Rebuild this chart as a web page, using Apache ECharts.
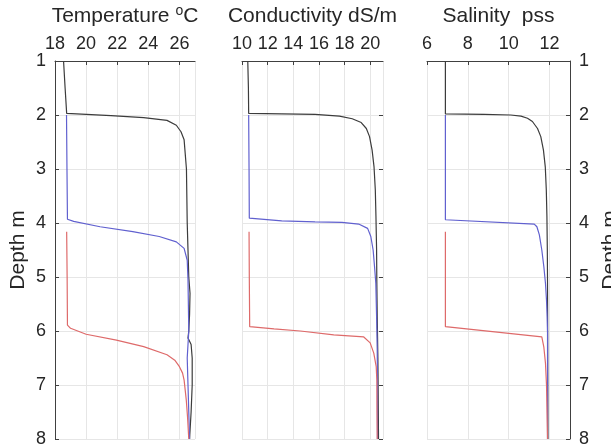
<!DOCTYPE html>
<html><head><meta charset="utf-8">
<script src="https://cdn.jsdelivr.net/npm/echarts@6/dist/echarts.min.js"></script>
<style>html,body{margin:0;padding:0;background:#fff}#c{width:611px;height:447px}</style>
</head><body><div id="c"></div>
<script>
// Depth axis
const depthRange = [1, 8];
// Panel x ranges
const tempRange = [18, 27];
const condRange = [10, 21];
const salRange = [6, 13];
// Titles
const titles = ['Temperature {sup|o}C', 'Conductivity dS/m', 'Salinity  pss'];

// Temperature profiles [value, depth]
const tempBlack = [[18.55,1.0],[18.65,1.5],[18.75,1.97],[21.6,2.01],[23.7,2.05],[25.2,2.10],[25.8,2.19],[26.1,2.31],[26.3,2.46],[26.45,3.0],[26.5,4.0],[26.55,4.5],[26.6,5.0],[26.68,5.3],[26.65,5.7],[26.6,6.0],[26.55,6.13],[26.75,6.25],[26.82,6.5],[26.82,7.0],[26.75,7.5],[26.65,8.0]];
const tempBlue = [[18.74,2.0],[18.77,3.0],[18.8,3.93],[19.2,3.97],[20.9,4.07],[23.0,4.16],[24.7,4.25],[25.8,4.35],[26.3,4.47],[26.5,4.69],[26.55,5.05],[26.6,6.0],[26.5,6.5],[26.55,7.0],[26.65,8.0]];
const tempRed = [[18.75,4.16],[18.78,5.0],[18.8,5.89],[19.0,5.95],[20.0,6.06],[21.95,6.17],[23.7,6.29],[25.2,6.44],[25.7,6.54],[26.0,6.66],[26.2,6.78],[26.3,6.91],[26.44,7.28],[26.52,7.59],[26.6,8.0]];

// Conductivity profiles [value, depth]
const condBlack = [[10.45,1.0],[10.5,1.5],[10.52,1.97],[13.1,1.98],[15.7,1.99],[17.6,2.02],[18.6,2.07],[19.3,2.14],[19.7,2.25],[19.95,2.40],[20.15,2.65],[20.3,2.96],[20.4,3.39],[20.45,3.88],[20.5,4.5],[20.52,5.12],[20.55,5.73],[20.6,6.5],[20.62,7.0],[20.65,8.0]];
const condBlue = [[10.52,2.0],[10.55,3.0],[10.57,3.91],[13.1,3.96],[15.7,3.98],[17.8,3.99],[19.1,4.02],[19.8,4.10],[20.05,4.25],[20.23,4.5],[20.34,4.81],[20.44,5.12],[20.5,5.73],[20.55,6.35],[20.57,7.0],[20.57,8.0]];
const condRed = [[10.55,4.16],[10.57,5.0],[10.6,5.92],[12.5,5.96],[14.55,6.0],[17.16,6.07],[19.5,6.11],[20.0,6.22],[20.28,6.41],[20.47,6.66],[20.52,6.91],[20.53,7.5],[20.55,8.0]];

// Salinity profiles [value, depth]
const salBlack = [[6.9,1.0],[6.9,1.5],[6.9,1.98],[8.8,1.99],[10.1,2.0],[10.6,2.02],[10.92,2.06],[11.16,2.12],[11.41,2.25],[11.57,2.40],[11.70,2.65],[11.79,2.96],[11.84,3.39],[11.87,3.88],[11.89,4.5],[11.9,5.12],[11.92,8.0]];
const salBlue = [[6.9,2.0],[6.9,3.0],[6.9,3.94],[11.25,4.02],[11.38,4.07],[11.5,4.22],[11.62,4.5],[11.72,4.81],[11.8,5.12],[11.85,5.43],[11.88,5.73],[11.9,6.04],[11.9,7.0],[11.9,8.0]];
const salRed = [[6.9,4.16],[6.9,5.0],[6.9,5.92],[11.62,6.11],[11.72,6.3],[11.8,6.6],[11.85,7.0],[11.88,7.6],[11.9,8.0]];

const FONT = 'Liberation Sans, Arial, Helvetica, sans-serif';
const AX = '#404040';
const TXT = '#262626';
const GRIDC = '#e6e6e6';
const C_BLACK = '#3c3c3c', C_BLUE = '#6060cf', C_RED = '#de6a6a';

const grids = [
  {left: 55, top: 61, width: 140, height: 378, outerBoundsMode: 'none', containLabel: false},
  {left: 242, top: 61, width: 141, height: 378, outerBoundsMode: 'none', containLabel: false},
  {left: 427, top: 61, width: 143, height: 378, outerBoundsMode: 'none', containLabel: false}
];
const ranges = [tempRange, condRange, salRange];

const xAxes = ranges.map((r, i) => ({
  type: 'value', gridIndex: i, position: 'top', min: r[0], max: r[1], interval: 2,
  axisLine: {show: true, onZero: false, lineStyle: {color: AX, width: 1}},
  axisTick: {show: true, inside: true, length: 4, lineStyle: {color: AX}},
  axisLabel: {fontSize: 18, color: TXT, fontFamily: FONT, margin: 8, showMaxLabel: false},
  splitLine: {show: true, lineStyle: {color: GRIDC, width: 1}}
}));

const yBase = (i) => ({
  type: 'value', gridIndex: i, min: depthRange[0], max: depthRange[1], interval: 1, inverse: true,
  axisTick: {show: true, inside: true, length: 4, lineStyle: {color: AX}},
  splitLine: {show: true, lineStyle: {color: GRIDC, width: 1}},
  axisLabel: {fontSize: 18, color: TXT, fontFamily: FONT, margin: 9}
});
const yAxes = [
  Object.assign(yBase(0), {position: 'left', axisLine: {show: true, onZero: false, lineStyle: {color: AX}},
    name: 'Depth m', nameLocation: 'middle', nameRotate: 90, nameGap: 26,
    nameTextStyle: {fontSize: 21, color: TXT, fontFamily: FONT}}),
  Object.assign(yBase(1), {position: 'right', axisLine: {show: false}, axisLabel: {show: false}}),
  Object.assign(yBase(2), {position: 'right', axisLine: {show: true, onZero: false, lineStyle: {color: AX}},
    name: 'Depth m', nameLocation: 'middle', nameRotate: 90, nameGap: 30,
    nameTextStyle: {fontSize: 21, color: TXT, fontFamily: FONT, verticalAlign: 'top'}})
];

function line(data, i, color) {
  return {type: 'line', data: data, xAxisIndex: i, yAxisIndex: i, showSymbol: false, symbol: 'none',
    lineStyle: {color: color, width: 1.2}, itemStyle: {color: color}, silent: true};
}

const series = [
  line(tempBlack, 0, C_BLACK), line(tempBlue, 0, C_BLUE), line(tempRed, 0, C_RED),
  line(condBlack, 1, C_BLACK), line(condBlue, 1, C_BLUE), line(condRed, 1, C_RED),
  line(salBlack, 2, C_BLACK), line(salBlue, 2, C_BLUE), line(salRed, 2, C_RED)
];

const titleX = grids.map(g => g.left + g.width / 2);
const graphic = titles.map((t, i) => ({
  type: 'text', x: titleX[i], y: 16,
  style: {text: t, fontSize: 21, fill: TXT, fontFamily: FONT, align: 'center', verticalAlign: 'middle',
    rich: {sup: {fontSize: 14, fill: TXT, fontFamily: FONT, verticalAlign: 'top', lineHeight: 24, padding: [0,0,12,0]}}}
}));

const chart = echarts.init(document.getElementById('c'), null, {renderer: 'canvas'});
chart.setOption({
  animation: false,
  backgroundColor: '#fff',
  grid: grids,
  xAxis: xAxes,
  yAxis: yAxes,
  series: series,
  graphic: graphic
});
</script></body></html>
